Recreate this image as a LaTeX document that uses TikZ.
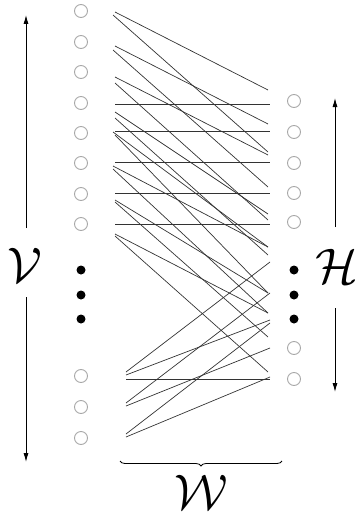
\documentclass[tikz,border=0pt]{standalone}
\usepackage{amsmath,amssymb}
\usepackage{xcolor}
\usetikzlibrary{arrows.meta,decorations.pathreplacing}
\definecolor{ringc}{HTML}{A8A8A8}
\definecolor{wirec}{HTML}{333333}

\begin{document}
\begin{tikzpicture}[x=1pt, y=-1pt,
  unit/.style={circle, draw=ringc, line width=0.9pt, minimum size=13pt, inner sep=0pt},
  gapdot/.style={circle, fill=black, minimum size=9pt, inner sep=0pt},
  wire/.style={draw=wirec, line width=0.7pt},
  span/.style={-{Latex[length=9pt,width=5pt]}, line width=0.8pt},
  sym/.style={scale=5, inner sep=0pt}]
  \useasboundingbox (0,0) rectangle (358,527);
  % visible units
  \foreach \i/\y in {1/11,2/42,3/72,4/103,5/133,6/163,7/194,8/224,9/376,10/407,11/438}{
    \node[unit] (v\i) at (81,\y) {};
  }
  \foreach \i/\y in {1/101,2/132,3/163,4/193,5/222,6/348,7/379}{
    \node[unit] (h\i) at (294,\y) {};
  }
  \foreach \i/\y in {1/270,2/295,3/319}{
    \node[gapdot] (vd\i) at (81,\y) {};
    \node[gapdot] (hd\i) at (294,\y) {};
  }
  % weights
  \foreach \n/\xa/\ya/\xb/\yb in {1/115/12/268/90, 2/113/15/268/152, 3/115/46/268/124, 4/113/50/268/187,
      5/115/77/268/155, 6/115/83/268/220, 7/115/112/268/214, 8/115/118/268/255,
      9/113/132/268/247, 10/115/135/268/293, 11/113/166/268/247, 12/113/169/268/313,
      13/115/200/268/293, 14/115/202/268/337, 15/115/234/268/313, 16/115/236/268/372,
      17/115/104/270/104, 18/115/131/270/131, 19/115/162/270/162, 20/115/193/270/193,
      21/115/224/270/224, 22/126/372/270/262, 23/126/375/270/320, 24/126/403/270/293,
      25/126/406/270/348, 26/126/434/270/323, 27/126/437/270/377, 28/126/379/270/379}{
    \coordinate (s\n) at (\xa,\ya);
    \coordinate (t\n) at (\xb,\yb);
    \draw[wire] (s\n) -- (t\n);
  }
  % labels and arrows
  \node[sym] (lv) at (25,265) {$\mathcal{V}$};
  \node[sym] (lh) at (337,266) {$\mathcal{H}$};
  \coordinate (va) at (26,228);
  \coordinate (vt) at (26,15);
  \coordinate (vb) at (26,297);
  \coordinate (vu) at (26,462);
  \coordinate (ha) at (335,227);
  \coordinate (ht) at (335,98);
  \coordinate (hb) at (335,308);
  \coordinate (hu) at (335,392);
  \draw[span] (va) -- (vt);
  \draw[span] (vb) -- (vu);
  \draw[span] (ha) -- (ht);
  \draw[span] (hb) -- (hu);
  \coordinate (bl) at (120,461);
  \coordinate (br) at (282,461);
  \draw[line width=0.8pt, decorate, decoration={brace, mirror, amplitude=5pt}] (bl) -- (br)
    node[midway, below=12pt, sym] (lw) {$\mathcal{W}$};
\end{tikzpicture}
\end{document}
